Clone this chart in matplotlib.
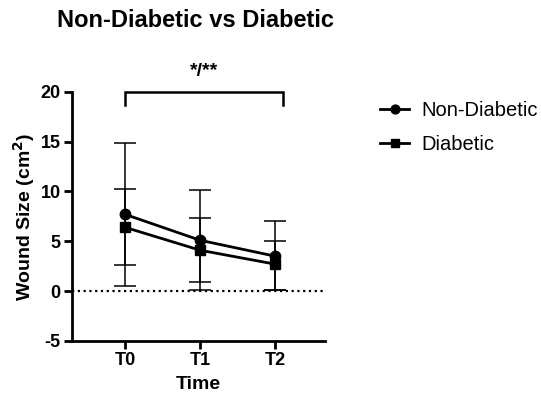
import numpy as np
import matplotlib.pyplot as plt

plt.rcParams['font.family'] = ['Liberation Sans', 'DejaVu Sans']
plt.rcParams['axes.unicode_minus'] = False

times = ['T0', 'T1', 'T2']

# means
non_diab = [7.7, 5.1, 3.5]
diab = [6.4, 4.1, 2.7]

# error bar ends (lower, upper)
non_diab_lo = [0.5, 0.1, 0.1]
non_diab_hi = [14.9, 10.1, 7.05]
diab_lo = [2.6, 0.9, 0.15]
diab_hi = [10.2, 7.3, 5.0]

x = np.arange(len(times))

fig = plt.figure(figsize=(5.41, 4.01), dpi=100)
ax = fig.add_axes([0.133, 0.150, 0.468, 0.621])

def err(m, lo, hi):
    m = np.array(m)
    return [m - np.array(lo), np.array(hi) - m]

ax.axhline(0, color='black', lw=1.6, ls=(0, (1, 1.6)), zorder=1)

ax.errorbar(x, non_diab, yerr=err(non_diab, non_diab_lo, non_diab_hi),
            color='black', lw=2, marker='o', ms=7.5, elinewidth=1.1,
            capsize=8, capthick=1.1, label='Non-Diabetic', zorder=3)
ax.errorbar(x, diab, yerr=err(diab, diab_lo, diab_hi),
            color='black', lw=2, marker='s', ms=7, elinewidth=1.1,
            capsize=8, capthick=1.1, label='Diabetic', zorder=3)

# significance bracket
ax.plot([0, 0, 2.1, 2.1], [18.7, 20, 20, 18.7], color='black', lw=1.8,
        clip_on=False, solid_joinstyle='miter')
ax.text(1.05, 22.0, '*/**', ha='center', va='center', fontsize=14,
        fontweight='bold', clip_on=False)

ax.set_xlim(-0.707, 2.667)
ax.set_ylim(-5, 20)
ax.set_yticks([-5, 0, 5, 10, 15, 20])
ax.set_xticks(x)
ax.set_xticklabels(times)

for s in ['top', 'right']:
    ax.spines[s].set_visible(False)
for s in ['left', 'bottom']:
    ax.spines[s].set_linewidth(2)

ax.tick_params(axis='both', width=2, length=6, labelsize=13, pad=2)
for lab in ax.get_xticklabels() + ax.get_yticklabels():
    lab.set_fontweight('bold')

ax.set_xlabel('Time', fontsize=14, fontweight='bold', labelpad=5)
ax.set_ylabel('Wound Size (cm$^\\mathbf{2}$)', fontsize=14, fontweight='bold', labelpad=3)

fig.text(0.362, 0.948, 'Non-Diabetic vs Diabetic', ha='center', va='center',
         fontsize=17, fontweight='bold')

handles, labels = ax.get_legend_handles_labels()
handles = [h[0] for h in handles]
ax.legend(handles, labels, loc='upper left', bbox_to_anchor=(1.217, 0.964),
          frameon=False, fontsize=14.5, handlelength=1.45, labelspacing=0.74,
          handletextpad=0.6, borderpad=0, borderaxespad=0, markerscale=0.85)

fig.savefig('out.png', dpi=100)
